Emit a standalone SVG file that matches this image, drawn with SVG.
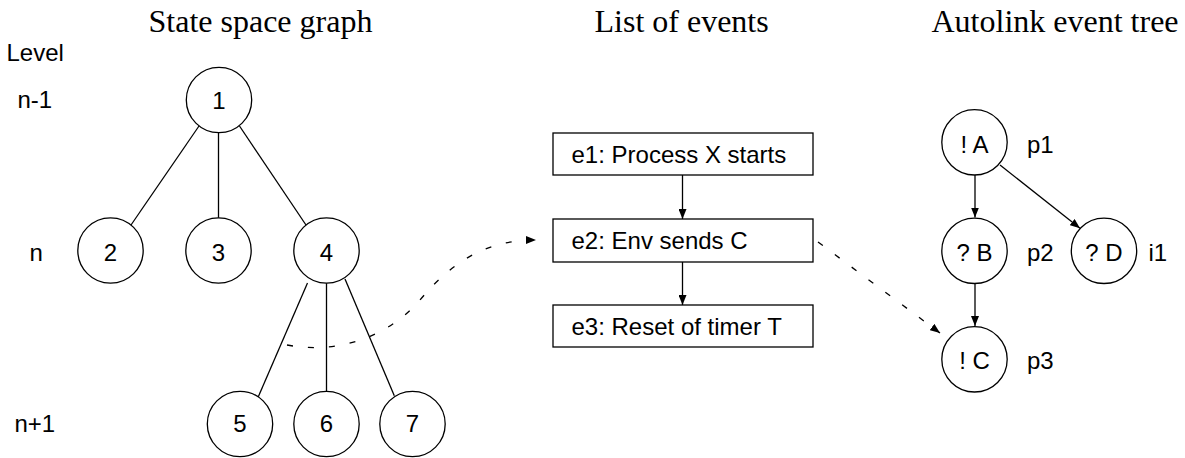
<svg xmlns="http://www.w3.org/2000/svg" width="1185" height="458" viewBox="0 0 1185 458">
  <style>
    .title { font-family: "Liberation Serif", "Times New Roman", serif; font-size: 32px; fill: #000; }
    .lbl { font-family: "Liberation Sans", Arial, Helvetica, sans-serif; font-size: 24px; fill: #000; }
    .mid { text-anchor: middle; }
    .node circle, .node rect { fill: #fff; stroke: #000; stroke-width: 1.3; }
    .edge { fill: none; stroke: #000; stroke-width: 1.3; }
    .dash { fill: none; stroke: #000; stroke-width: 1.3; stroke-dasharray: 6 15; }
  </style>
  <defs>
    <marker id="arrow" viewBox="0 0 10 8" refX="10" refY="4" markerWidth="10" markerHeight="8" markerUnits="userSpaceOnUse" orient="auto">
      <path d="M0,0 L10,4 L0,8 Z" fill="#000"/>
    </marker>
  </defs>

  <!-- column headings -->
  <text class="title" x="148.5" y="32">State space graph</text>
  <text class="title" x="594.5" y="32">List of events</text>
  <text class="title" x="931.5" y="32">Autolink event tree</text>

  <!-- level labels -->
  <text class="lbl" x="6.5" y="61">Level</text>
  <text class="lbl" x="17.5" y="108">n-1</text>
  <text class="lbl" x="29.5" y="260.5">n</text>
  <text class="lbl" x="14.5" y="432">n+1</text>

  <!-- connectors -->
  <g id="connectors">
    <!-- state space tree edges -->
    <line class="edge" x1="199" y1="126" x2="131" y2="225"/>
    <line class="edge" x1="218.5" y1="133" x2="218.5" y2="218"/>
    <line class="edge" x1="239.5" y1="126" x2="306" y2="225"/>
    <line class="edge" x1="307.5" y1="283" x2="258.3" y2="396.7"/>
    <line class="edge" x1="326.5" y1="283" x2="326.5" y2="391"/>
    <line class="edge" x1="345" y1="279" x2="394.3" y2="395.7"/>
    <!-- event list sequence -->
    <line class="edge" x1="682.5" y1="175" x2="682.5" y2="219" marker-end="url(#arrow)"/>
    <line class="edge" x1="682.5" y1="262" x2="682.5" y2="305" marker-end="url(#arrow)"/>
    <!-- autolink event tree -->
    <line class="edge" x1="975" y1="175" x2="975" y2="217.5" marker-end="url(#arrow)"/>
    <line class="edge" x1="1000" y1="165" x2="1080" y2="228.3" marker-end="url(#arrow)"/>
    <line class="edge" x1="975" y1="283.5" x2="975" y2="326" marker-end="url(#arrow)"/>
    <!-- mappings between views -->
    <path class="dash" d="M287,345 C340,355 390,335 420,300 C455,258 490,240 536,240" marker-end="url(#arrow)"/>
    <line class="dash" x1="818" y1="242" x2="940" y2="333" marker-end="url(#arrow)"/>
  </g>

  <!-- state space graph nodes -->
  <g id="s1" class="node"><circle cx="219" cy="100" r="32.7"/><text class="lbl mid" x="219" y="109">1</text></g>
  <g id="s2" class="node"><circle cx="110.5" cy="250.5" r="32.7"/><text class="lbl mid" x="110.5" y="260.5">2</text></g>
  <g id="s3" class="node"><circle cx="218.5" cy="250.5" r="32.7"/><text class="lbl mid" x="218.5" y="260.5">3</text></g>
  <g id="s4" class="node"><circle cx="326.5" cy="250.5" r="32.7"/><text class="lbl mid" x="326.5" y="260.5">4</text></g>
  <g id="s5" class="node"><circle cx="240" cy="424" r="32.7"/><text class="lbl mid" x="240" y="432">5</text></g>
  <g id="s6" class="node"><circle cx="326.5" cy="424" r="32.7"/><text class="lbl mid" x="326.5" y="432">6</text></g>
  <g id="s7" class="node"><circle cx="412.5" cy="424" r="32.7"/><text class="lbl mid" x="412.5" y="432">7</text></g>

  <!-- event list -->
  <g id="e1" class="node"><rect x="553" y="133" width="260" height="42"/><text class="lbl" x="571.5" y="163">e1: Process X starts</text></g>
  <g id="e2" class="node"><rect x="553" y="219" width="260" height="43"/><text class="lbl" x="571.5" y="248.5">e2: Env sends C</text></g>
  <g id="e3" class="node"><rect x="553" y="305" width="260" height="42"/><text class="lbl" x="571.5" y="335">e3: Reset of timer T</text></g>

  <!-- autolink event tree nodes -->
  <g id="tA" class="node"><circle cx="974.5" cy="142.3" r="32.7"/><text class="lbl mid" x="974.5" y="152.5">! A</text><text class="lbl" x="1027" y="152.5">p1</text></g>
  <g id="tB" class="node"><circle cx="974.5" cy="250.8" r="32.7"/><text class="lbl mid" x="974.5" y="261">? B</text><text class="lbl" x="1027" y="261">p2</text></g>
  <g id="tD" class="node"><circle cx="1104" cy="250.8" r="32.7"/><text class="lbl mid" x="1104" y="261">? D</text><text class="lbl" x="1148.5" y="261">i1</text></g>
  <g id="tC" class="node"><circle cx="974.5" cy="359.3" r="32.7"/><text class="lbl mid" x="974.5" y="368.5">! C</text><text class="lbl" x="1027" y="368.5">p3</text></g>
</svg>
